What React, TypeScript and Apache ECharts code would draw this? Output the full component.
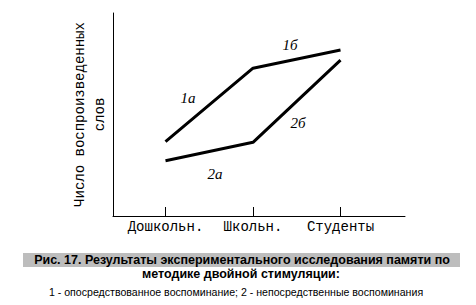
import React, { useEffect, useRef } from "react";
import * as echarts from "echarts";

const categories = ["Дошкольн.", "Школьн.", "Студенты"];
const seriesMediated = [36.6, 72.8, 81.8]; // 1 – опосредствованное
const seriesDirect = [27.2, 36.3, 76.8]; // 2 – непосредственные
const yTitle = "Число воспроизведенных\nслов";
const segmentLabels = ["1а", "1б", "2а", "2б"];
const captionLines = [
  "Рис. 17. Результаты экспериментального исследования памяти по",
  "методике двойной стимуляции:",
  "1 - опосредствованное воспоминание; 2 - непосредственные воспоминания",
];

export default function App() {
  const ref = useRef<HTMLDivElement>(null);
  useEffect(() => {
    if (!ref.current) return;
    const chart = echarts.init(ref.current, null, { renderer: "svg" });
    const idx = categories.map((_, i) => i);
    const mono = "Liberation Mono";
    const serif = "'Liberation Serif', 'DejaVu Serif', serif";
    chart.setOption({
      animation: false,
      backgroundColor: "#ffffff",
      grid: { left: 113, top: 13, width: 292, height: 203 },
      xAxis: {
        type: "value",
        min: -0.6,
        max: 2.737,
        axisLine: { show: true, onZero: false, lineStyle: { color: "#000", width: 1 } },
        splitLine: { show: false },
        axisTick: {
          show: true,
          inside: true,
          length: 9,
          customValues: idx,
          lineStyle: { color: "#000", width: 1 },
        },
        axisLabel: {
          customValues: idx,
          formatter: (v: number) => categories[Math.round(v)] ?? "",
          color: "#000",
          fontFamily: mono,
          fontSize: 14,
          margin: 4,
        },
      },
      yAxis: {
        type: "value",
        min: 0,
        max: 100,
        axisLine: { show: true, onZero: false, lineStyle: { color: "#000", width: 1 } },
        axisTick: { show: false },
        axisLabel: { show: false },
        splitLine: { show: false },
        name: yTitle,
        nameLocation: "middle",
        nameRotate: 90,
        nameGap: 3,
        nameTextStyle: {
          color: "#000",
          fontFamily: mono,
          fontSize: 14,
          lineHeight: 20,
        },
      },
      series: [
        {
          type: "line",
          data: seriesMediated.map((v, i) => [i, v]),
          symbol: "none",
          lineStyle: { color: "#000", width: 3 },
        },
        {
          type: "line",
          data: seriesDirect.map((v, i) => [i, v]),
          symbol: "none",
          lineStyle: { color: "#000", width: 3 },
        },
      ],
      graphic: [
        ...[
          [188, 98],
          [290, 45],
          [215, 174],
          [298, 123],
        ].map(([x, y], i) => ({
          type: "text",
          x,
          y,
          style: {
            text: segmentLabels[i],
            fill: "#000",
            font: `italic 15px ${serif}`,
            align: "center",
            verticalAlign: "middle",
          },
        })),
        {
          type: "rect",
          shape: { x: 23, y: 253, width: 437, height: 14 },
          style: { fill: "#bdbdbd" },
        },
        {
          type: "text",
          x: 242,
          y: 259.5,
          style: {
            text: captionLines[0],
            fill: "#000",
            font: `bold 12.5px 'Liberation Sans', sans-serif`,
            align: "center",
            verticalAlign: "middle",
          },
        },
        {
          type: "text",
          x: 241,
          y: 274,
          style: {
            text: captionLines[1],
            fill: "#000",
            font: `bold 12.5px 'Liberation Sans', sans-serif`,
            align: "center",
            verticalAlign: "middle",
          },
        },
        {
          type: "text",
          x: 236,
          y: 292,
          style: {
            text: captionLines[2],
            fill: "#000",
            font: `10.6px 'Liberation Sans', sans-serif`,
            align: "center",
            verticalAlign: "middle",
          },
        },
      ],
    });
    return () => chart.dispose();
  }, []);
  return (
    <div
      ref={ref}
      style={{ position: "absolute", left: 0, top: 0, width: 476, height: 305 }}
    />
  );
}
